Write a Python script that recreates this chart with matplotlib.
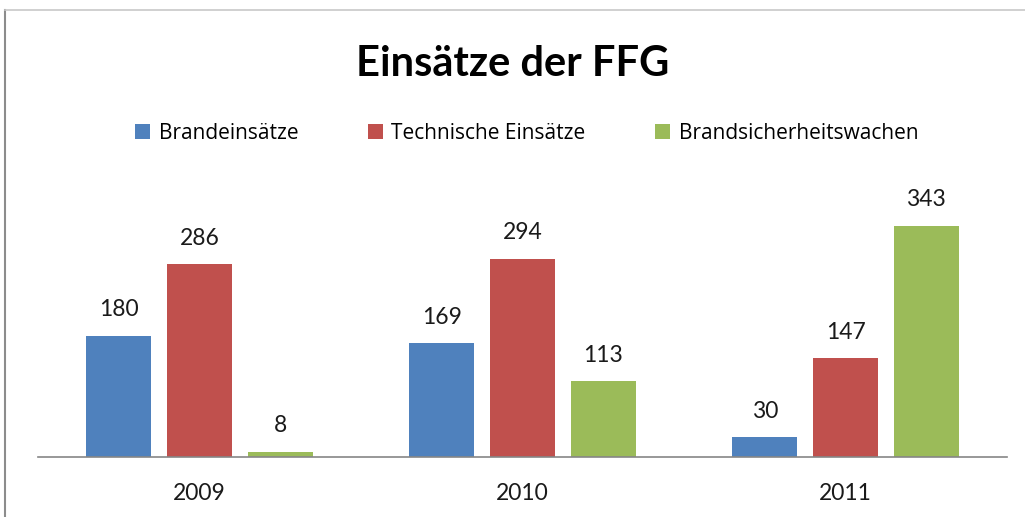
import matplotlib.pyplot as plt
import numpy as np
from matplotlib.lines import Line2D

years = ['2009', '2010', '2011']
series = ['Brandeinsätze', 'Technische Einsätze', 'Brandsicherheitswachen']
brand = [180, 169, 30]
technisch = [286, 294, 147]
wachen = [8, 113, 343]
colors = ['#4F81BD', '#C0504D', '#9BBB59']

plt.rcParams['font.family'] = ['Lato', 'DejaVu Sans']

fig = plt.figure(figsize=(10.25, 5.17), dpi=100)
ax = fig.add_axes([0.037, 0.116, 0.9455, 0.522])

x = np.arange(len(years))
width = 0.2
for i, (name, vals) in enumerate(zip(series, [brand, technisch, wachen])):
    rects = ax.bar(x + (i - 1) * 0.25, vals, width, color=colors[i], label=name)
    ax.bar_label(rects, padding=11, fontsize=16.5, color='#1a1a1a')

ax.set_xlim(-0.5, 2.5)
ax.set_ylim(0, 400)
ax.set_yticks([])
ax.set_xticks(x, years, fontsize=16.5, color='#1a1a1a')
ax.tick_params(axis='x', length=0, pad=19)
for s in ['top', 'right', 'left']:
    ax.spines[s].set_visible(False)
ax.spines['bottom'].set_color('#868686')
ax.spines['bottom'].set_linewidth(1.2)

fig.text(0.5, 0.877, 'Einsätze der FFG', ha='center', va='center',
         fontsize=30, fontweight='bold')
fig.legend(loc='center', bbox_to_anchor=(0.514, 0.742), ncols=3, frameon=False,
           prop={'family': ['Open Sans', 'DejaVu Sans'], 'size': 15},
           handlelength=0.72, handleheight=0.72, handletextpad=0.4,
           columnspacing=3.35)

# outer frame
fig.add_artist(Line2D([0.005, 0.005], [0, 0.981], color='#8c8c8c', lw=1.5))
fig.add_artist(Line2D([0.005, 1.0], [0.981, 0.981], color='#c8c8c8', lw=1.2))

fig.savefig('out.png', dpi=100)
